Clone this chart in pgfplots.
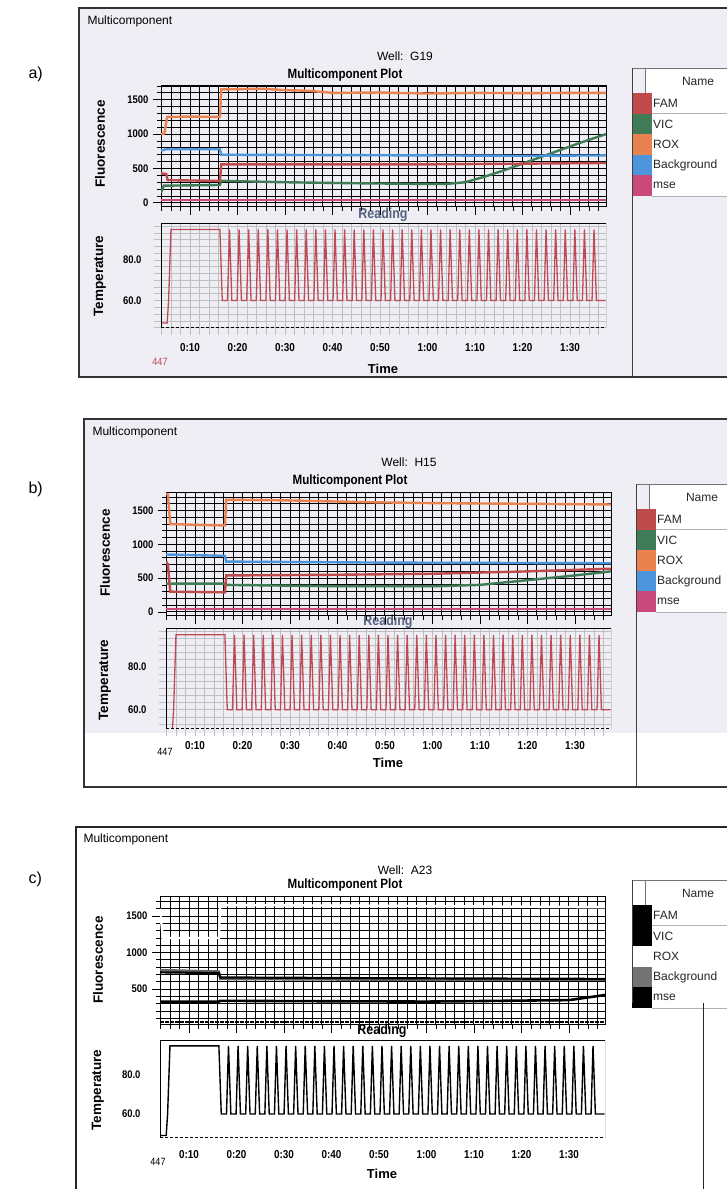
\documentclass[border=0pt]{standalone}
\usepackage{pgfplots}
\pgfplotsset{compat=1.18}
\usepackage{pgfplotstable}
\usepackage{fontspec}
\setmainfont{Liberation Sans}
\newfontfamily\nf[FakeStretch=0.86]{Liberation Sans}
\definecolor{famc}{HTML}{BF4A4C}
\definecolor{vicc}{HTML}{3F7B57}
\definecolor{roxc}{HTML}{EA8250}
\definecolor{bgc}{HTML}{4C94DC}
\definecolor{msec}{HTML}{C9497A}
\definecolor{tempc}{HTML}{BE4A57}
\definecolor{panelbg}{HTML}{EEEEF4}
\definecolor{readc}{HTML}{55627F}

% ---------- temperature profile (min, degC), shared ----------
\pgfplotstableread{
x y
3.9 49
5.2 49
5.5 60
6.0 95
16.30 95
16.80 60
17.90 60
18.32 95
18.82 60
19.92 60
20.34 95
20.84 60
21.94 60
22.36 95
22.86 60
23.96 60
24.38 95
24.88 60
25.98 60
26.40 95
26.90 60
28.00 60
28.42 95
28.92 60
30.02 60
30.44 95
30.94 60
32.04 60
32.46 95
32.96 60
34.06 60
34.48 95
34.98 60
36.08 60
36.50 95
37.00 60
38.10 60
38.52 95
39.02 60
40.12 60
40.54 95
41.04 60
42.14 60
42.56 95
43.06 60
44.16 60
44.58 95
45.08 60
46.18 60
46.60 95
47.10 60
48.20 60
48.62 95
49.12 60
50.22 60
50.64 95
51.14 60
52.24 60
52.66 95
53.16 60
54.26 60
54.68 95
55.18 60
56.28 60
56.70 95
57.20 60
58.30 60
58.72 95
59.22 60
60.32 60
60.74 95
61.24 60
62.34 60
62.76 95
63.26 60
64.36 60
64.78 95
65.28 60
66.38 60
66.80 95
67.30 60
68.40 60
68.82 95
69.32 60
70.42 60
70.84 95
71.34 60
72.44 60
72.86 95
73.36 60
74.46 60
74.88 95
75.38 60
76.48 60
76.90 95
77.40 60
78.50 60
78.92 95
79.42 60
80.52 60
80.94 95
81.44 60
82.54 60
82.96 95
83.46 60
84.56 60
84.98 95
85.48 60
86.58 60
87.00 95
87.50 60
88.60 60
89.02 95
89.52 60
90.62 60
91.04 95
91.54 60
92.64 60
93.06 95
93.56 60
94.66 60
95.08 95
95.58 60
97.50 60
}\temptab

% ---------- panel a ----------
\pgfplotstableread{
x y
3.9 1000
4.6 1010
5.2 1250
10 1255
16.3 1250
16.6 1650
25 1660
30 1640
35 1630
40 1600
50 1605
60 1590
70 1600
80 1595
90 1600
97.6 1600
}\roxa
\pgfplotstableread{
x y
3.9 760
5.0 780
16.3 780
16.6 700
40 695
60 690
80 685
97.6 690
}\bga
\pgfplotstableread{
x y
3.9 430
5.0 420
5.3 330
16.3 320
16.6 560
40 560
60 560
80 570
97.6 580
}\fama
\pgfplotstableread{
x y
3.9 150
4.5 250
16.3 260
16.6 320
30 300
45 285
60 275
64 275
68 300
72 380
76 470
80 570
84 670
88 770
92 870
97.6 1000
}\vica
\pgfplotstableread{
x y
3.9 40
97.6 40
}\msea

% ---------- panel b ----------
\pgfplotstableread{
x y
3.9 1750
4.3 1740
4.8 1300
10 1290
16.3 1280
16.6 1660
30 1650
45 1625
60 1610
80 1600
97.6 1590
}\roxb
\pgfplotstableread{
x y
3.9 850
16.3 830
16.6 745
50 730
97.6 720
}\bgb
\pgfplotstableread{
x y
3.9 750
4.3 700
4.8 300
16.3 290
16.6 540
40 550
60 565
80 600
97.6 640
}\famb
\pgfplotstableread{
x y
3.9 420
16.3 420
16.6 400
40 380
60 380
70 400
80 470
90 540
97.6 600
}\vicb
\pgfplotstableread{
x y
3.9 40
97.6 40
}\mseb

% ---------- panel c ----------
\pgfplotstableread{
x y
3.9 1600
4.5 1200
16.3 1200
16.6 1650
50 1640
97.6 1620
}\roxc
\pgfplotstableread{
x y
3.9 760
16.3 740
16.6 640
50 630
97.6 630
}\bgc
\pgfplotstableread{
x y
3.9 730
16.3 720
16.6 660
50 650
97.6 640
}\famc
\pgfplotstableread{
x y
3.9 330
16.3 330
16.6 340
60 330
90 350
97.6 420
}\vicc
\pgfplotstableread{
x y
3.9 50
97.6 50
}\msec

\pgfplotsset{
  fluor/.style={scale only axis, width=445pt,
    xmin=3.9, xmax=97.6,
    xtick={0,10,...,100}, xticklabels={}, minor x tick num=4,
    ytick={-500,0,500,1000,1500,2000}, minor y tick num=4,
    grid=both,
    major grid style={black, line width=0.9pt},
    minor grid style={black, line width=0.9pt},
    tick align=outside, xtick pos=bottom, ytick pos=left,
    major tick length=8pt, minor tick length=4pt,
    every tick/.style={black, line width=0.8pt},
    axis line style={black, line width=1pt},
    yticklabel style={font=\nf\bfseries\fontsize{11}{11}\selectfont, xshift=-1pt},
    /pgf/number format/assume math mode=true,
    /pgf/number format/set thousands separator={},
    clip=true},
  temp/.style={scale only axis, width=445pt,
    xmin=3.9, xmax=97.6,
    xtick={0,10,...,100},
    xticklabels={0:00,0:10,0:20,0:30,0:40,0:50,1:00,1:10,1:20,1:30,1:40},
    minor x tick num=4,
    ytick={40,60,80,100}, yticklabels={40.0,60.0,80.0,100.0},
    minor y tick num=5,
    grid=both,
    major grid style={black!25, line width=0.6pt},
    minor grid style={black!25, line width=0.6pt},
    tick align=outside, xtick pos=bottom, ytick pos=left,
    major tick length=7pt, minor tick length=7pt,
    every tick/.style={black!25, line width=0.6pt},
    axis line style={draw=none},
    xticklabel style={font=\nf\bfseries\fontsize{11.5}{11.5}\selectfont, yshift=-2pt},
    yticklabel style={font=\nf\bfseries\fontsize{11}{11}\selectfont, xshift=-9pt},
    clip=true},
}

\newcommand\legendrows[8]{%
  % #1 x, #2 y header top, #3-#7 colours, #8 bottom of border
  \fill[white] (#1+13,#2) rectangle (740,#2+25);
  \draw[black!55, line width=0.8pt] (#1,#2) -- (740,#2);
  \draw[black!55, line width=0.8pt] (#1+13,#2) -- (#1+13,#2+25);
  \draw[black!35, line width=0.6pt] (#1,#2+25) -- (740,#2+25);
  \node[font=\fontsize{12}{12}\selectfont, text=black!85] at (#1+66,#2+13) {Name};
  \foreach \i/\nm/\cc in {0/FAM/#3,1/VIC/#4,2/ROX/#5,3/Background/#6,4/mse/#7}{
    \fill[white] (#1+20,#2+25+\i*20.6) rectangle (740,#2+45.6+\i*20.6);
    \fill[\cc] (#1,#2+25+\i*20.6) rectangle (#1+20,#2+45.6+\i*20.6);
    \draw[black!30, line width=0.5pt] (#1+20,#2+45.6+\i*20.6) -- (740,#2+45.6+\i*20.6);
    \node[anchor=west, inner sep=1pt, font=\fontsize{12}{12}\selectfont, text=black!85] at (#1+20,#2+35.3+\i*20.6) {\nm};
  }
  \draw[black!75, line width=1pt] (#1,#2) -- (#1,#8);
}

\begin{document}
\begin{tikzpicture}[x=1pt,y=1pt]
\useasboundingbox (0pt,0pt) rectangle (727pt,1189pt);
\clip (0pt,0pt) rectangle (727pt,1189pt);
\fill[white] (0pt,0pt) rectangle (727pt,1189pt);

\begin{scope}[yshift=1189pt, y=-1pt]
% ================= PANEL A frame/text =================
\fill[panelbg] (79,8) rectangle (740,377);
\draw[black!80, line width=1.2pt] (79,8) rectangle (740,377);
\node[anchor=west, font=\fontsize{16}{16}\selectfont] at (25,74) {a)};
\node[anchor=west, font=\fontsize{12}{12}\selectfont] at (84,21) {Multicomponent};
\node[font=\fontsize{12}{12}\selectfont] at (405,56) {Well:\ \ G19};
\node[font=\nf\bfseries\fontsize{13.5}{13.5}\selectfont] at (345,75) {Multicomponent Plot};
\node[rotate=90, font=\bfseries\fontsize{13.5}{13.5}\selectfont] at (100,144) {Fluorescence};
\node[rotate=90, font=\bfseries\fontsize{13.5}{13.5}\selectfont] at (100,276) {Temperature};
\legendrows{632}{68}{famc}{vicc}{roxc}{bgc}{msec}{377}
\node[font=\nf\bfseries\fontsize{14.5}{14.5}\selectfont, text=readc] at (383,215) {Reading};
\node[font=\nf\fontsize{10.5}{10.5}\selectfont, text=tempc] at (160,362) {447};
\node[font=\bfseries\fontsize{13}{13}\selectfont] at (383,369) {Time};

% ================= PANEL B frame/text =================
\fill[panelbg] (84,419) rectangle (740,733);
\draw[black!80, line width=1.2pt] (84,419) rectangle (740,787);
\node[anchor=west, font=\fontsize{16}{16}\selectfont] at (25,489) {b)};
\node[anchor=west, font=\fontsize{12}{12}\selectfont] at (89,432) {Multicomponent};
\node[font=\fontsize{12}{12}\selectfont] at (409,462) {Well:\ \ H15};
\node[font=\nf\bfseries\fontsize{13.5}{13.5}\selectfont] at (350,481) {Multicomponent Plot};
\node[rotate=90, font=\bfseries\fontsize{13.5}{13.5}\selectfont] at (105,553) {Fluorescence};
\node[rotate=90, font=\bfseries\fontsize{13.5}{13.5}\selectfont] at (105,680) {Temperature};
\legendrows{636}{484}{famc}{vicc}{roxc}{bgc}{msec}{787}
\node[font=\nf\bfseries\fontsize{14.5}{14.5}\selectfont, text=readc] at (388,622) {Reading};
\node[font=\nf\fontsize{10.5}{10.5}\selectfont] at (165,752) {447};
\node[font=\bfseries\fontsize{13}{13}\selectfont] at (388,763) {Time};

% ================= PANEL C frame/text =================
\draw[black!85, line width=1.2pt] (76,1189) -- (76,827) -- (740,827);
\node[anchor=west, font=\fontsize{16}{16}\selectfont] at (25,879) {c)};
\node[anchor=west, font=\fontsize{12}{12}\selectfont] at (80,839) {Multicomponent};
\node[font=\fontsize{12}{12}\selectfont] at (405,870) {Well:\ \ A23};
\node[font=\nf\bfseries\fontsize{13.5}{13.5}\selectfont] at (345,885) {Multicomponent Plot};
\node[rotate=90, font=\bfseries\fontsize{13.5}{13.5}\selectfont] at (98,960) {Fluorescence};
\node[rotate=90, font=\bfseries\fontsize{13.5}{13.5}\selectfont] at (98,1090) {Temperature};
\legendrows{632}{880}{black}{black}{white}{black!55}{black}{1003}
\draw[black!85, line width=1pt] (703,1003) -- (703,1189);
\node[font=\nf\bfseries\fontsize{14.5}{14.5}\selectfont] at (382,1031) {Reading};
\node[font=\nf\fontsize{10.5}{10.5}\selectfont] at (158,1162) {447};
\node[font=\bfseries\fontsize{13}{13}\selectfont] at (382,1174) {Time};
\end{scope}

% ================= PANEL A axes =================
\begin{axis}[fluor, at={(161pt,1103pt)}, anchor=north west, height=121pt, ymin=-60, ymax=1700]
\addplot[msec, line width=2.4pt] table[x=x,y=y] {\msea};
\addplot[vicc, line width=2.4pt] table[x=x,y=y] {\vica};
\addplot[famc, line width=2.4pt] table[x=x,y=y] {\fama};
\addplot[bgc, line width=2.4pt] table[x=x,y=y] {\bga};
\addplot[roxc, line width=2.4pt] table[x=x,y=y] {\roxa};
\end{axis}
\begin{axis}[temp, at={(161pt,965pt)}, anchor=north west, height=104pt, ymin=46.5, ymax=97.7,
  xticklabel style={yshift=-3pt}]
\addplot[tempc, line width=1.3pt] table[x=x,y=y] {\temptab};
\draw[black, line width=1pt] (rel axis cs:0,0) -- (rel axis cs:0,1) -- (rel axis cs:1,1) -- (rel axis cs:1,0);
\draw[black, line width=1pt, dash pattern=on 3pt off 2pt] (rel axis cs:0,0) -- (rel axis cs:1,0);
\end{axis}

% ================= PANEL B axes =================
\begin{axis}[fluor, at={(166pt,696pt)}, anchor=north west, height=123pt, ymin=-60, ymax=1760]
\addplot[msec, line width=2.4pt] table[x=x,y=y] {\mseb};
\addplot[vicc, line width=2.4pt] table[x=x,y=y] {\vicb};
\addplot[famc, line width=2.4pt] table[x=x,y=y] {\famb};
\addplot[bgc, line width=2.4pt] table[x=x,y=y] {\bgb};
\addplot[roxc, line width=2.4pt] table[x=x,y=y] {\roxb};
\end{axis}
\begin{axis}[temp, at={(166pt,560pt)}, anchor=north west, height=100pt, ymin=51, ymax=97.7]
\addplot[tempc, line width=1.3pt] table[x=x,y=y] {\temptab};
\draw[black, line width=1pt] (rel axis cs:0,0) -- (rel axis cs:0,1) -- (rel axis cs:1,1) -- (rel axis cs:1,0);
\draw[black, line width=1pt, dash pattern=on 3pt off 2pt] (rel axis cs:0,0) -- (rel axis cs:1,0);
\end{axis}

% ================= PANEL C axes =================
\begin{axis}[fluor, at={(160pt,292pt)}, anchor=north west, height=128pt, ymin=10, ymax=1760]
\addplot[black, line width=2.4pt, dash pattern=on 4pt off 1pt] table[x=x,y=y] {\msec};
\addplot[black, line width=2.6pt] table[x=x,y=y] {\vicc};
\addplot[black!60, line width=2.6pt] table[x=x,y=y] {\bgc};
\addplot[black, line width=2.2pt] table[x=x,y=y] {\famc};
\addplot[white, line width=2.4pt] table[x=x,y=y] {\roxc};
\end{axis}
\begin{axis}[temp, at={(160pt,148pt)}, anchor=north west, height=97pt, ymin=47.7, ymax=97.5,
  major grid style={white}, minor grid style={white}, every tick/.style={white}]
\addplot[black, line width=1.4pt] table[x=x,y=y] {\temptab};
\draw[black, line width=1pt] (rel axis cs:0,0) -- (rel axis cs:0,1) -- (rel axis cs:1,1) -- (rel axis cs:1,0);
\draw[black, line width=1pt, dash pattern=on 3pt off 2pt] (rel axis cs:0,0) -- (rel axis cs:1,0);
\end{axis}
\end{tikzpicture}
\end{document}
